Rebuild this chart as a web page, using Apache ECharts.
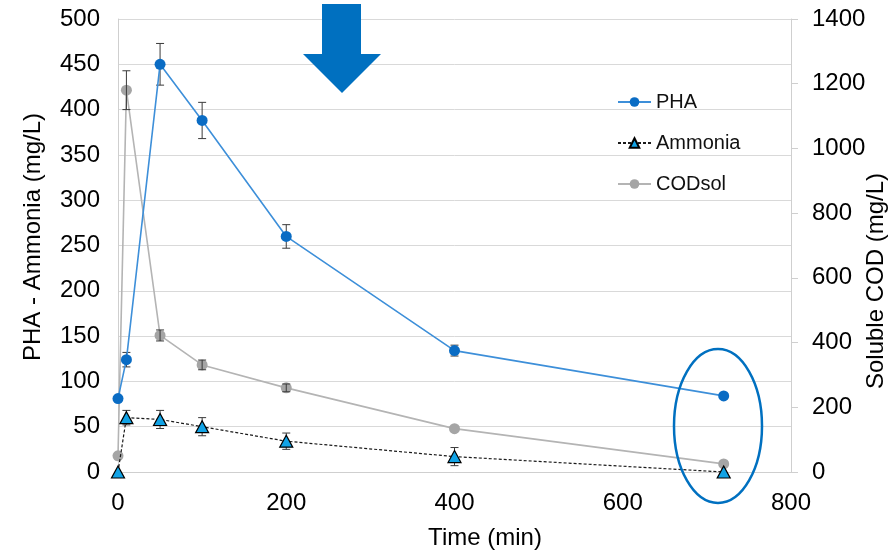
<!DOCTYPE html>
<html>
<head>
<meta charset="utf-8">
<script src="https://cdn.jsdelivr.net/npm/echarts@6/dist/echarts.min.js"></script>
<style>
  html, body { margin: 0; padding: 0; background: #fff; }
  #chart { width: 892px; height: 552px; }
</style>
</head>
<body>
<div id="chart"></div>
<script>
// Sampling times (min)
const time = [0, 10, 50, 100, 200, 400, 720];
// PHA and ammonia concentrations (mg/L), left axis
const pha = [81, 124, 450, 388, 260, 134, 84];
const phaErr = [0, 8, 23, 20, 13, 6, 0];
const ammonia = [0, 60, 58, 50, 34, 17, 0];
const ammoniaErr = [0, 8, 10, 10, 9, 10, 0];
// Soluble COD (mg/L), right axis
const codSol = [50, 1180, 422, 331, 260, 134, 25];
const codSolErr = [0, 60, 17, 15, 12, 0, 0];

const FONT = '"Liberation Sans", Arial, Helvetica, sans-serif';
const AXIS_GREY = '#cfcfcf';
const LABEL_SIZE = 24;

function pairs(ys) { return time.map((t, i) => [t, ys[i]]); }
function errData(ys, errs) {
  return time.map((t, i) => [t, ys[i] - errs[i], ys[i] + errs[i], errs[i]]);
}
function errorBars(name, ys, errs, yAxisIndex) {
  return {
    name: name,
    type: 'custom',
    yAxisIndex: yAxisIndex,
    z: 3,
    silent: true,
    data: errData(ys, errs),
    renderItem: function (params, api) {
      if (api.value(3) <= 0) return null;
      const x = api.value(0);
      const lo = api.coord([x, api.value(1)]);
      const hi = api.coord([x, api.value(2)]);
      const w = 4;
      const style = { stroke: '#3a3a3a', lineWidth: 1 };
      return {
        type: 'group',
        children: [
          { type: 'line', shape: { x1: lo[0], y1: lo[1], x2: hi[0], y2: hi[1] }, style: style },
          { type: 'line', shape: { x1: lo[0] - w, y1: lo[1], x2: lo[0] + w, y2: lo[1] }, style: style },
          { type: 'line', shape: { x1: hi[0] - w, y1: hi[1], x2: hi[0] + w, y2: hi[1] }, style: style }
        ]
      };
    }
  };
}

const chart = echarts.init(document.getElementById('chart'), null, { renderer: 'canvas' });

chart.setOption({
  animation: false,
  backgroundColor: '#ffffff',
  textStyle: { fontFamily: FONT },
  grid: { left: 118, right: 101, top: 19, bottom: 80, containLabel: false },
  legend: {
    orient: 'vertical',
    left: 612,
    top: 87,
    itemWidth: 33,
    itemHeight: 12,
    itemGap: 21,
    textStyle: { fontFamily: FONT, fontSize: 20, color: '#111' },
    data: ['PHA', 'Ammonia', 'CODsol']
  },
  xAxis: {
    type: 'value',
    min: 0,
    max: 800,
    interval: 200,
    axisLine: { show: true, lineStyle: { color: AXIS_GREY, width: 1 } },
    axisTick: { show: false },
    splitLine: { show: false },
    axisLabel: { color: '#000', fontSize: LABEL_SIZE, margin: 19, fontFamily: FONT }
  },
  yAxis: [
    {
      type: 'value',
      min: 0,
      max: 500,
      interval: 50,
      position: 'left',
      axisLine: { show: true, lineStyle: { color: AXIS_GREY, width: 1 } },
      axisTick: { show: false },
      splitLine: { show: true, lineStyle: { color: '#d9d9d9', width: 1 } },
      axisLabel: { color: '#000', fontSize: LABEL_SIZE, margin: 18, fontFamily: FONT }
    },
    {
      type: 'value',
      min: 0,
      max: 1400,
      interval: 200,
      position: 'right',
      axisLine: { show: true, lineStyle: { color: AXIS_GREY, width: 1 } },
      axisTick: { show: true, inside: false, length: 7, lineStyle: { color: AXIS_GREY } },
      splitLine: { show: false },
      axisLabel: {
        color: '#000', fontSize: LABEL_SIZE, margin: 21, fontFamily: FONT,
        formatter: function (v) { return String(v); }
      }
    }
  ],
  series: [
    errorBars('PHA-err', pha, phaErr, 0),
    errorBars('Ammonia-err', ammonia, ammoniaErr, 0),
    errorBars('CODsol-err', codSol, codSolErr, 1),
    {
      name: 'CODsol',
      type: 'line',
      yAxisIndex: 1,
      z: 2,
      data: pairs(codSol),
      symbol: 'circle',
      symbolSize: 11,
      lineStyle: { color: '#b4b4b4', width: 1.6 },
      itemStyle: { color: '#a5a5a5' }
    },
    {
      name: 'PHA',
      type: 'line',
      yAxisIndex: 0,
      z: 4,
      data: pairs(pha),
      symbol: 'circle',
      symbolSize: 11,
      lineStyle: { color: '#3d8fd9', width: 1.6 },
      itemStyle: { color: '#0a6cc4' }
    },
    {
      name: 'Ammonia',
      type: 'line',
      yAxisIndex: 0,
      z: 5,
      data: pairs(ammonia),
      symbol: 'triangle',
      symbolSize: [13, 12],
      lineStyle: { color: '#1a1a1a', width: 1.2, type: [3, 2] },
      itemStyle: { color: '#12a3e6', borderColor: '#000', borderWidth: 1.2 }
    }
  ],
  graphic: [
    {
      type: 'text',
      x: 485, y: 538,
      style: { text: 'Time (min)', fontSize: LABEL_SIZE, fontFamily: FONT, fill: '#000', align: 'center', verticalAlign: 'middle' }
    },
    {
      type: 'text',
      x: 33, y: 237, rotation: Math.PI / 2,
      style: { text: 'PHA - Ammonia (mg/L)', fontSize: LABEL_SIZE, fontFamily: FONT, fill: '#000', align: 'center', verticalAlign: 'middle' }
    },
    {
      type: 'text',
      x: 876, y: 281, rotation: Math.PI / 2,
      style: { text: 'Soluble COD (mg/L)', fontSize: LABEL_SIZE, fontFamily: FONT, fill: '#000', align: 'center', verticalAlign: 'middle' }
    },
    {
      // downward arrow marking the feeding point
      type: 'polygon',
      z: 10,
      shape: { points: [[322, 4], [361, 4], [361, 54], [381, 54], [342, 93], [303, 54], [322, 54]] },
      style: { fill: '#0070c0' }
    },
    {
      // ring highlighting the final sample
      type: 'ellipse',
      z: 10,
      shape: { cx: 718, cy: 426, rx: 44, ry: 77 },
      style: { fill: null, stroke: '#0070c0', lineWidth: 2.5 }
    }
  ]
});
</script>
</body>
</html>
